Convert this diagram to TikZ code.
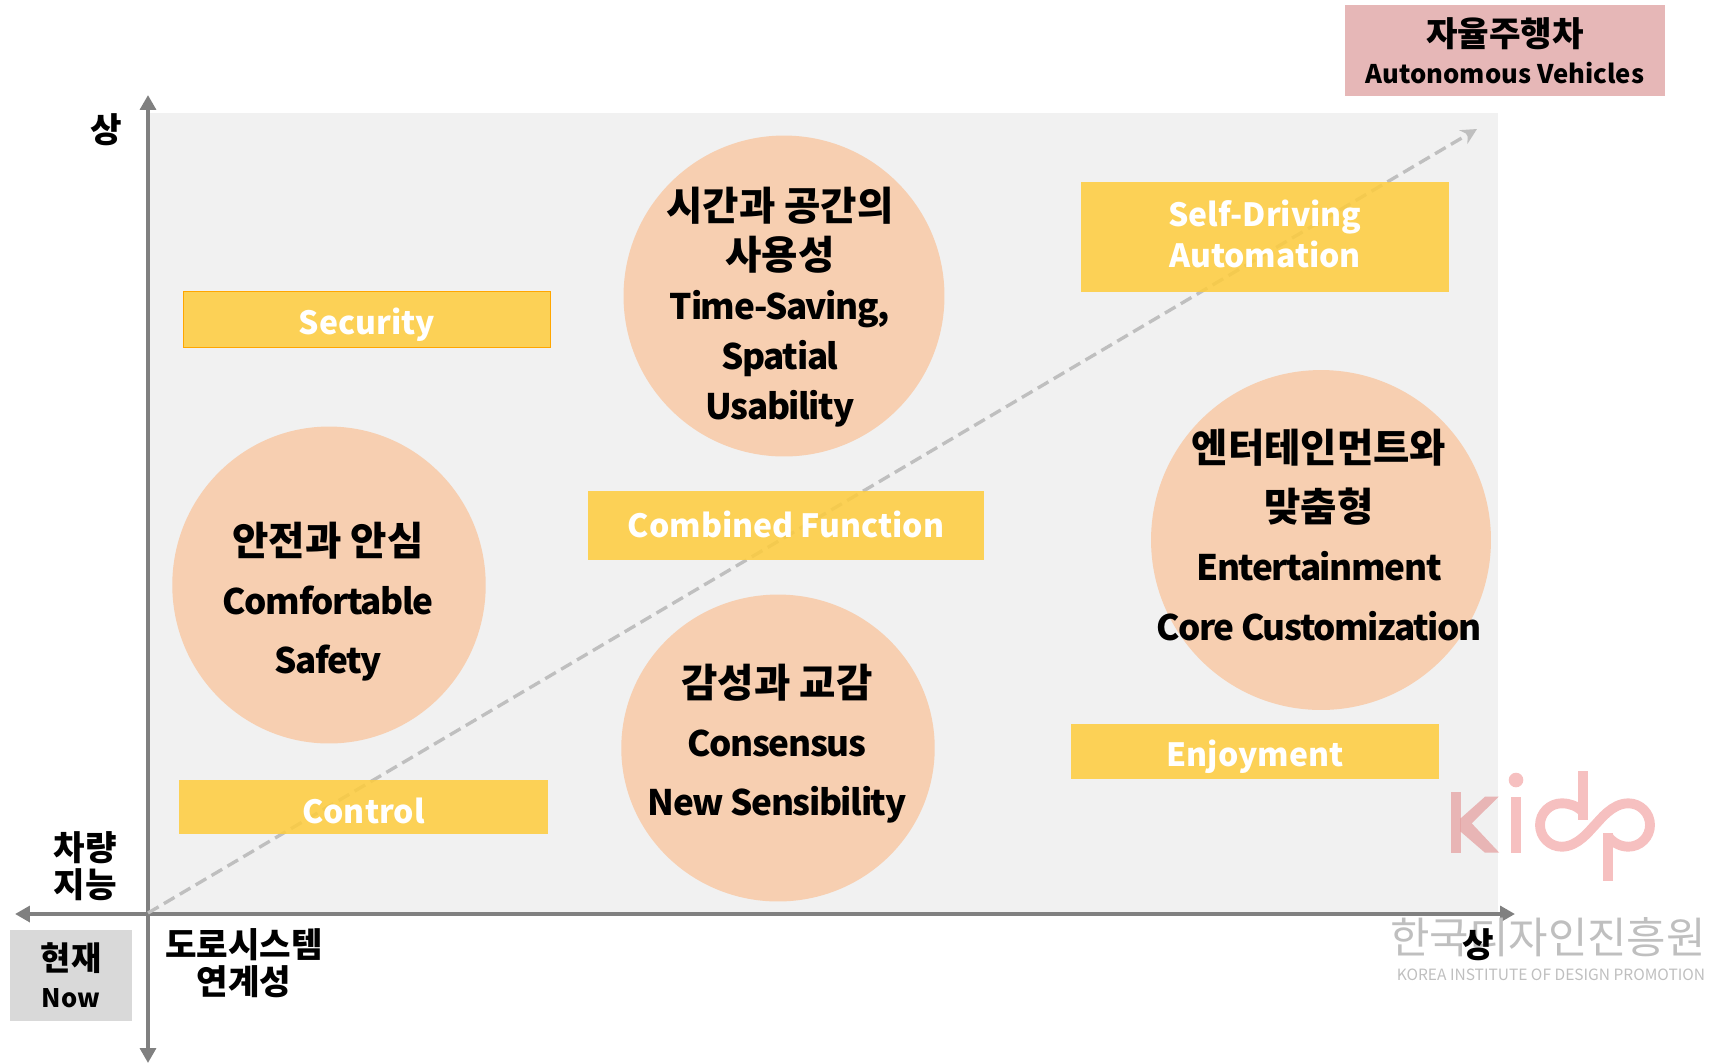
\documentclass[tikz,border=0pt]{standalone}
\usepackage{fontspec}
\usepackage{tikz}
\usetikzlibrary{arrows.meta}
\usetikzlibrary{shapes.geometric}
\setmainfont{Noto Sans CJK KR}
\newfontfamily\tightfont{Noto Sans CJK KR}[LetterSpace=-4]
\newcommand{\krline}[1]{{\normalfont\bfseries\fontsize{22.5}{22.5}\selectfont #1}}
\definecolor{panelgray}{HTML}{F1F1F1}
\definecolor{boxyellow}{HTML}{FECC3C}
\definecolor{bubble}{HTML}{F7CFB1}
\definecolor{boxpink}{HTML}{E6B7B7}
\definecolor{boxgray}{HTML}{D9D9D9}
\definecolor{axisgray}{HTML}{808080}
\definecolor{dashgray}{HTML}{BFBFBF}
\definecolor{logopink}{HTML}{F6C0C0}
\definecolor{logogray}{HTML}{BFBFBF}
\tikzset{
  yellowbox/.style = {fill = boxyellow, fill opacity = 0.85, inner sep = 0pt},
  boxtext/.style = {text = white, font = \fontsize{18.2}{23}\selectfont\bfseries, align = center, inner sep = 0pt},
  bubblenode/.style = {ellipse, fill = bubble, inner sep = 0pt},
  bubbletext/.style = {text = black, font = \tightfont\fontsize{20}{#1}\selectfont\bfseries, align = center, inner sep = 0pt},
  labeltext/.style = {text = black, font = \fontsize{19.5}{21.2}\selectfont\bfseries, align = center, inner sep = 0pt},
  axisline/.style = {draw = axisgray, line width = 2.2pt, -{Triangle[length = 8.5pt, width = 9pt]}},
  logobar/.style = {draw = logopink, line width = 5.6pt}
}
\begin{document}
\begin{tikzpicture} [x = 0.02cm, y = -0.02cm]
    \useasboundingbox (0,0) rectangle (1724,1063);
    \fill [panelgray] (148,113) rectangle (1498,913);
    % axes
    \coordinate (origin) at (148,914);
    \coordinate (xleft) at (15,914);
    \coordinate (xright) at (1515,914);
    \coordinate (ytop) at (148,95);
    \coordinate (ybottom) at (148,1063);
    \draw [axisline] (origin)--(xleft);
    \draw [axisline] (origin)--(xright);
    \draw [axisline] (origin)--(ytop);
    \draw [axisline] (origin)--(ybottom);
    % trend line
    \coordinate (trendstart) at (148,913);
    \coordinate (trendend) at (1477,129);
    \draw [dashgray, line width = 1.9pt, dash pattern = on 7pt off 3.5pt, -{Stealth[length = 9pt, width = 9pt]}] (trendstart)--(trendend);
    % boxes
    \node (security) [yellowbox, draw = orange!70!yellow, line width = 0.6pt, minimum width = 7.36cm, minimum height = 1.12cm] at (367,319.5) {};
    \node (securitytext) [boxtext] at (367,325) {Security};
    \node (selfdriving) [yellowbox, minimum width = 7.38cm, minimum height = 2.2cm] at (1265,236.5) {};
    \node (selfdrivingtext) [boxtext] at (1265,234) {Self-Driving\\Automation};
    \node (combined) [yellowbox, minimum width = 7.92cm, minimum height = 1.38cm] at (786,525.5) {};
    \node (combinedtext) [boxtext] at (786,524) {Combined Function};
    \node (control) [yellowbox, minimum width = 7.38cm, minimum height = 1.08cm] at (363.5,806.5) {};
    \node (controltext) [boxtext] at (363.5,811) {Control};
    \node (enjoyment) [yellowbox, minimum width = 7.38cm, minimum height = 1.1cm] at (1255,751.5) {};
    \node (enjoymenttext) [boxtext] at (1255,757) {Enjoyment};
    % circles
    \node (timespace) [bubblenode, minimum width = 6.42cm, minimum height = 6.42cm] at (784,296) {};
    \node (timespacetext) [bubbletext = 28.4] at (780,307) {\krline{시간과 공간의}\\\krline{사용성}\\Time-Saving,\\Spatial\\Usability};
    \node (safety) [bubblenode, minimum width = 6.27cm, minimum height = 6.34cm] at (329,585) {};
    \node (safetytext) [bubbletext = 33.6] at (328,602) {\krline{안전과 안심}\\Comfortable\\Safety};
    \node (sensibility) [bubblenode, minimum width = 6.27cm, minimum height = 6.14cm] at (778,748) {};
    \node (sensibilitytext) [bubbletext = 33.6] at (777,744) {\krline{감성과 교감}\\Consensus\\New Sensibility};
    \node (entertainment) [bubblenode, minimum width = 6.8cm, minimum height = 6.8cm] at (1321,540) {};
    \node (entertainmenttext) [bubbletext = 33.6] at (1319,535) {\krline{엔터테인먼트와}\\\krline{맞춤형}\\Entertainment\\Core Customization};
    % labels
    \node (autonomous) [fill = boxpink, labeltext, minimum width = 6.4cm, minimum height = 1.82cm] at (1505,50.5) {자율주행차\\{\fontsize{14.6}{21}\selectfont Autonomous Vehicles}};
    \node (now) [fill = boxgray, labeltext, minimum width = 2.44cm, minimum height = 1.82cm] at (71,975.5) {{\fontsize{18.7}{21}\selectfont 현재}\\{\fontsize{14.5}{20}\selectfont Now}};
    \node (yhigh) [labeltext] at (106,130) {상};
    \node (yname) [labeltext] at (85,866) {차량\\지능};
    \node (xname) [labeltext] at (244,963) {도로시스템\\연계성};
    % logo
    \draw [logobar, blend mode = multiply] (1456,792)--(1456,853);
    \fill [logopink, blend mode = multiply] (1460.7,818.3)--(1485,796.7)--(1498.7,796.7)--(1471.7,823.3)--(1499.3,852.7)--(1485,852.7)--(1460.7,831.7)--cycle;
    \fill [logopink] (1516,780) circle (7.3);
    \draw [logobar] (1516,797)--(1516,853);
    \draw [logobar] (1583,771)--(1583,820);
    \draw [logobar] (1608,833)--(1608,881);
    \draw [logobar] (1583,812) .. controls (1577,806) and (1570,803.3) .. (1561.7,803.3) .. controls (1549.7,803.3) and (1540,813) .. (1540,825) .. controls (1540,837) and (1549.7,846.7) .. (1561.7,846.7) .. controls (1578,846.7) and (1590,830) .. (1595,825) .. controls (1600,820) and (1612,803.3) .. (1628.3,803.3) .. controls (1640.3,803.3) and (1650,813) .. (1650,825) .. controls (1650,837) and (1640.3,846.7) .. (1628.3,846.7) .. controls (1620,846.7) and (1612,842) .. (1608,836);
    \node (logokr) [text = logogray, font = \fontsize{24.4}{30}\selectfont, inner sep = 0pt] at (1548,937) {한국디자인진흥원};
    \node (logoen) [text = logogray, font = \fontsize{8.84}{11}\selectfont, inner sep = 0pt] at (1551,975) {KOREA INSTITUTE OF DESIGN PROMOTION};
    \node (xhigh) [labeltext] at (1478,945) {상};
\end{tikzpicture}
\end{document}
